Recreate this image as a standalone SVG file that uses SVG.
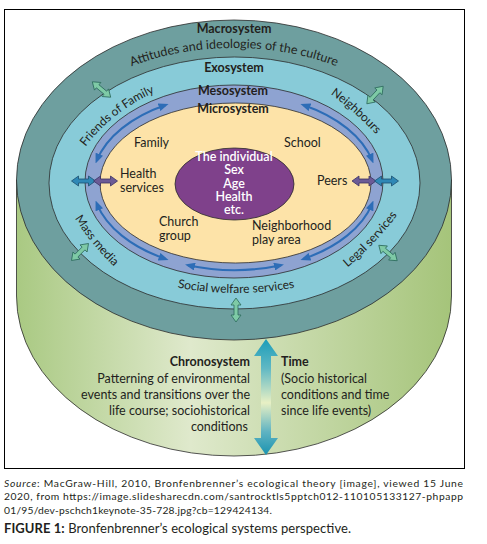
<svg xmlns="http://www.w3.org/2000/svg" xmlns:xlink="http://www.w3.org/1999/xlink" width="487" height="544" viewBox="0 0 487 544">
<defs>
<style>
.t{font-family:Lato,"Liberation Sans",sans-serif;fill:#231f20;font-size:12.5px}
.b{font-weight:bold}
.ring{stroke:#2b2b2b;stroke-width:0.8}
.lab{font-family:Lato,"Liberation Sans",sans-serif;fill:#231f20;font-size:12px}
.cap{font-family:Lato,"Liberation Sans",sans-serif;fill:#231f20;font-size:10.3px}
.inner{font-family:Lato,"Liberation Sans",sans-serif;fill:#ffffff;font-size:12.5px;font-weight:600}
.garr{fill:#7ecaa6;stroke:#2c6a5c;stroke-width:0.8}
.barr{fill:#2f88b6;stroke:#1c4f6e;stroke-width:0.8}
.parr{fill:#6b5b96;stroke:#3b3163;stroke-width:0.8}
.curve{fill:none;stroke:#2d6db7;stroke-width:2;marker-start:url(#ah);marker-end:url(#ah)}
</style>
<linearGradient id="cyl" gradientUnits="userSpaceOnUse" x1="16" y1="0" x2="452" y2="0">
<stop offset="0" stop-color="#a9c982"/>
<stop offset="0.4" stop-color="#dfe9cc"/>
<stop offset="1" stop-color="#a5c47a"/>
</linearGradient>
<linearGradient id="chr" gradientUnits="userSpaceOnUse" x1="0" y1="339" x2="0" y2="455">
<stop offset="0" stop-color="#1c9db9"/>
<stop offset="0.25" stop-color="#5fb8c4"/>
<stop offset="0.55" stop-color="#e8f0c4"/>
<stop offset="0.8" stop-color="#5fb3c2"/>
<stop offset="1" stop-color="#1a93b0"/>
</linearGradient>
<marker id="ah" viewBox="0 0 10 8" refX="7" refY="4" markerWidth="10" markerHeight="8" markerUnits="userSpaceOnUse" orient="auto-start-reverse">
<path d="M0,0 L10,4 L0,8 z" fill="#2d6db7"/>
</marker>
<path id="dbl" d="M-12,0 L-5,-5 L-5,-2 L5,-2 L5,-5 L12,0 L5,5 L5,2 L-5,2 L-5,5 Z"/>
<path id="p-att" d="M32,180 A202,132 0 0 1 436,180"/>
<path id="p-fof" d="M84.8,147.6 Q112.8,110.4 155.6,92"/>
<path id="p-nei" d="M328.3,92.6 Q355.6,111.5 377.7,136.4"/>
<path id="p-mm" d="M73.7,216.6 Q91.3,244.8 115.3,267.8"/>
<path id="p-leg" d="M344.6,270.1 Q375.7,244.4 399.6,211.9"/>
<path id="p-swf" d="M170,286 Q236,300 302,286"/>
</defs>

<rect x="4.5" y="9.5" width="460" height="459" fill="#ffffff" stroke="#000000" stroke-width="1"/>

<g id="chronosystem">
<path d="M16.5,180 L16.5,296 A217.5,160 0 0 0 451.5,296 L451.5,180 Z" fill="url(#cyl)" class="ring"/>
<text class="t b" x="250" y="366" text-anchor="end">Chronosystem</text>
<text class="t" x="250" y="382.5" text-anchor="end">Patterning of environmental</text>
<text class="t" x="250" y="398.5" text-anchor="end">events and transitions over the</text>
<text class="t" x="250" y="414.5" text-anchor="end">life course; sociohistorical</text>
<text class="t" x="248" y="430.5" text-anchor="end">conditions</text>
<text class="t b" x="281" y="366">Time</text>
<text class="t" x="281" y="382.5">(Socio historical</text>
<text class="t" x="281" y="398.5">conditions and time</text>
<text class="t" x="281" y="414.5">since life events)</text>
</g>

<g id="macrosystem">
<ellipse cx="234" cy="180" rx="217.5" ry="160" fill="#6e9f9f" class="ring"/>
<text class="t b" x="234" y="33" text-anchor="middle">Macrosystem</text>
<text class="lab" style="font-size:12.5px"><textPath xlink:href="#p-att" href="#p-att" startOffset="50%" text-anchor="middle">Attitudes and ideologies of the culture</textPath></text>
</g>

<g id="exosystem">
<ellipse cx="234.5" cy="183" rx="185.5" ry="126" fill="#88cbd8" class="ring"/>
<text class="t b" x="234" y="72" text-anchor="middle">Exosystem</text>
<text class="lab"><textPath xlink:href="#p-fof" href="#p-fof" startOffset="50%" text-anchor="middle">Friends of Family</textPath></text>
<text class="lab"><textPath xlink:href="#p-nei" href="#p-nei" startOffset="50%" text-anchor="middle">Neighbours</textPath></text>
<text class="lab"><textPath xlink:href="#p-mm" href="#p-mm" startOffset="50%" text-anchor="middle">Mass media</textPath></text>
<text class="lab"><textPath xlink:href="#p-leg" href="#p-leg" startOffset="50%" text-anchor="middle">Legal services</textPath></text>
<text class="lab"><textPath xlink:href="#p-swf" href="#p-swf" startOffset="50%" text-anchor="middle">Social welfare services</textPath></text>
</g>

<g id="mesosystem">
<ellipse cx="234" cy="181.5" rx="149" ry="96.5" fill="#8ea3d1" class="ring"/>
<text class="t b" x="233" y="95" text-anchor="middle">Mesosystem</text>
</g>

<g id="microsystem">
<ellipse cx="235.5" cy="183" rx="135.5" ry="80" fill="#fde3a8" class="ring"/>
<text class="t b" x="233" y="113" text-anchor="middle">Microsystem</text>
<text class="t" x="134" y="147">Family</text>
<text class="t" x="284" y="147">School</text>
<text class="t" x="120" y="178">Health</text>
<text class="t" x="120" y="192">services</text>
<text class="t" x="317" y="185">Peers</text>
<text class="t" x="159" y="226">Church</text>
<text class="t" x="159" y="239.5">group</text>
<text class="t" x="252" y="230">Neighborhood</text>
<text class="t" x="252" y="243.5">play area</text>
</g>

<g id="individual">
<ellipse cx="234.5" cy="184" rx="59.5" ry="36" fill="#7f418b" class="ring"/>
<text class="inner" x="234" y="161" text-anchor="middle">The individual</text>
<text class="inner" x="234" y="174" text-anchor="middle">Sex</text>
<text class="inner" x="234" y="187.5" text-anchor="middle">Age</text>
<text class="inner" x="234" y="201" text-anchor="middle">Health</text>
<text class="inner" x="234" y="214" text-anchor="middle">etc.</text>
</g>

<g id="connectors">
<path class="curve" d="M96.7,160.7 A142,88 0 0 1 165.7,105"/>
<path class="curve" d="M303.3,105 A142,88 0 0 1 372.3,160.7"/>
<path class="curve" d="M96.7,203.3 A142,88 0 0 0 165.7,259"/>
<path class="curve" d="M303.3,259 A142,88 0 0 0 372.3,203.3"/>
<path class="curve" d="M188,265.2 A142,88 0 0 0 281,265.2"/>
<use href="#dbl" xlink:href="#dbl" class="garr" transform="translate(101.5,89.5) rotate(40)"/>
<use href="#dbl" xlink:href="#dbl" class="garr" transform="translate(375,95) rotate(-47)"/>
<use href="#dbl" xlink:href="#dbl" class="garr" transform="translate(80,252) rotate(-45)"/>
<use href="#dbl" xlink:href="#dbl" class="garr" transform="translate(388,253) rotate(40)"/>
<use href="#dbl" xlink:href="#dbl" class="garr" transform="translate(236,310) rotate(90)"/>
<use href="#dbl" xlink:href="#dbl" class="barr" transform="translate(83.5,181)"/>
<use href="#dbl" xlink:href="#dbl" class="parr" transform="translate(105.5,181)"/>
<use href="#dbl" xlink:href="#dbl" class="parr" transform="translate(364,181)"/>
<use href="#dbl" xlink:href="#dbl" class="barr" transform="translate(386.5,181)"/>
<path d="M266,339 L278,356 L271,356 L271,438 L278,438 L266,455 L254,438 L261,438 L261,356 L254,356 Z" fill="url(#chr)"/>
</g>

<g id="caption">
<text class="cap" x="4" y="486.5" textLength="459" lengthAdjust="spacing"><tspan font-style="italic">Source</tspan>: MacGraw-Hill, 2010, Bronfenbrenner’s ecological theory [image], viewed 15 June</text>
<text class="cap" x="4" y="500" textLength="459" lengthAdjust="spacing">2020, from https://image.slidesharecdn.com/santrocktls5pptch012-110105133127-phpapp</text>
<text class="cap" x="4" y="513.5" textLength="268" lengthAdjust="spacing">01/95/dev-pschch1keynote-35-728.jpg?cb=129424134.</text>
<text class="cap" x="4" y="533" style="font-size:13px" textLength="347" lengthAdjust="spacing"><tspan font-weight="bold">FIGURE 1:</tspan> Bronfenbrenner’s ecological systems perspective.</text>
</g>
</svg>
